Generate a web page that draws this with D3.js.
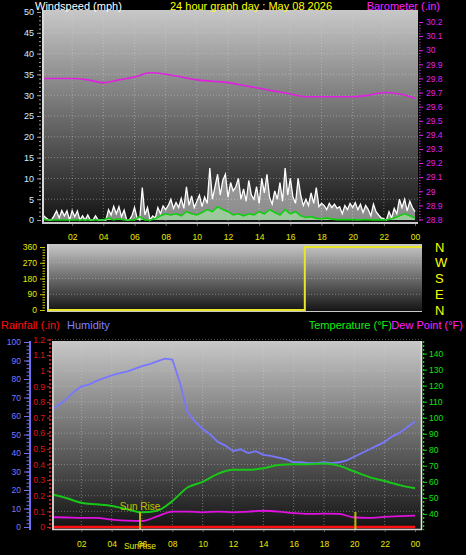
<!DOCTYPE html>
<html><head><meta charset="utf-8">
<script src="https://cdn.jsdelivr.net/npm/d3@7"></script>
<style>
html,body{margin:0;padding:0;background:#000;}
svg{display:block;}
text{font-family:"Liberation Sans",Arial,sans-serif;}
</style></head>
<body><svg id="c" width="466" height="555"></svg>
<script>
// ---------------- DATA ----------------
const hourTicks = [2,4,6,8,10,12,14,16,18,20,22,24];
const hourLabels = ["02","04","06","08","10","12","14","16","18","20","22","00"];
const windTicks = [0,5,10,15,20,25,30,35,40,45,50];
const baroTicks = [28.8,28.9,29,29.1,29.2,29.3,29.4,29.5,29.6,29.7,29.8,29.9,30,30.1,30.2];
const dirTicks = [0,90,180,270,360];
const dirNames = ["N","E","S","W","N"];
const humTicks = [0,10,20,30,40,50,60,70,80,90,100];
const rainTicks = [0,0.1,0.2,0.3,0.4,0.5,0.6,0.7,0.8,0.9,1,1.1,1.2];
const tempTicks = [40,50,60,70,80,90,100,110,120,130,140];

// wind gust (mph), every 10 minutes from 00:00
const windGust = [
 4.3,1,0.5,0,0,1,   2.2,0.5,2.3,1,2.2,0,   2.3,0.8,2.2,0,1,0,   1.2,0,0,1,0,0,
 0,0,2.5,1.2,3.3,1.5, 3.2,0.8,2.4,0,0,1,  3,0.5,0,7.8,1.2,3,   0,1,0.5,3,1.5,3.4,
 2.5,3.5,5,2.8,4.2,3, 5.2,2.8,8,3.5,5.8,3, 4.5,6,3.2,5.5,4,12.5, 5,8,11,6,9.5,11,
 5.5,9,7,8,10,5,     7.5,4.5,9.5,6,5,8,   4,10,6.5,11,5.5,3.8, 7,5,9,4.5,12.5,6,
 10,5.5,4,10,6,3.5,  5,3.5,6.5,4,7.8,3.2, 4,3.5,2.5,4,3,3.8,   2.8,3.2,1.5,3.5,2.5,4,
 3,4.2,2.5,3.8,1.8,3.5, 2.5,1,3.8,2,1.2,0.5, 0.3,0,2,0.5,2.8,1.5, 5,3,5,2.2,4.5,3,
 2];
// average wind speed (mph), every 20 minutes
const windAvg = [
 0.5,0,0, 0,0,0, 0,0,0, 0,0,0, 0,0.5,0, 0.3,0,0, 0,0.8,0, 0,0.3,1,
 1.5,1.2,1.5, 1,2,1.5, 1.2,1.8,2.5, 2,3.2,2.5, 2,1.2,1.5, 1,1.5,1.2, 2,1.5,2.5, 1.8,1.2,2.5,
 1.5,2,1, 0.6,0.8,0.4, 0.3,0.5,0.2, 0.1,0.1,0.1, 0.1,0,0.1, 0.1,0,0.1, 0,0.1,0.5, 1,1.5,1,
 0.5];
// barometer (in), hourly
const baro = [29.80,29.80,29.80,29.79,29.77,29.79,29.81,29.84,29.83,29.81,29.79,29.78,29.77,
 29.75,29.73,29.71,29.69,29.67,29.67,29.67,29.67,29.68,29.70,29.69,29.66];
// wind direction (deg)
const dirTimes = [0,16.5,16.5,24];
const dirValues = [0,0,360,360];
// humidity (%), every 30 minutes
const humidity = [63,66,69,73,76,77,79,80.5,82,83,84,85.5,87,88,89.5,91,90.5,78,62,57,53,50,46,44,
 41,42,40,41,39,38.5,37.5,36.5,35,35,34.5,34.5,35,34.5,35,36,38,40,42,44,46,49,51,54,57];
// temperature (F), hourly
const temperature = [52.5,50,47,46,45,43,41,42,48,56.5,60,65,67.5,67.5,68.5,70.5,71,71,71.5,70,66.5,63,60.5,58,56];
// dew point (F), hourly
const dewPoint = [38,37.8,37.5,37.6,36.5,35.8,35.6,38.5,41.5,41.5,41,41.5,41,41.5,42,41.5,40.5,40,40.2,40,37.8,37.5,38.2,38.6,39];
// rainfall (in), hourly
const rainfall = [0,0,0,0,0,0,0,0,0,0,0,0,0,0,0,0,0,0,0,0,0,0,0,0,0];
const sunRise = 5.87, sunSet = 20.07;

// ---------------- DRAW ----------------
const svg = d3.select("#c");
const defs = svg.append("defs");
const grad = defs.append("linearGradient").attr("id","bg").attr("x1",0).attr("y1",0).attr("x2",0).attr("y2",1);
grad.append("stop").attr("offset","0%").attr("stop-color","#c8c8c8");
grad.append("stop").attr("offset","50%").attr("stop-color","#6c6c6c");
grad.append("stop").attr("offset","100%").attr("stop-color","#121212");

function clip(id,x,y,w,h){defs.append("clipPath").attr("id",id).append("rect").attr("x",x).attr("y",y).attr("width",w).attr("height",h);}
const FS = 8.5;

// ===== TOP PANEL =====
const T = {x:42,y:10,w:376,h:214};
const xTop = d3.scaleLinear([0,24],[41,415]);
const yWind = d3.scaleLinear([0,50],[220,12]);
const yBaro = d3.scaleLinear([28.8,30.2],[219.5,22]);
svg.append("rect").attr("x",T.x).attr("y",T.y).attr("width",T.w).attr("height",T.h).attr("fill","url(#bg)");
clip("cTop",T.x+2,T.y,T.w-2,T.h-2);
const gTop = svg.append("g");
// grid
gTop.selectAll(".hg").data(windTicks.slice(1,-1)).join("line")
 .attr("x1",T.x).attr("x2",T.x+T.w).attr("y1",d=>yWind(d)).attr("y2",d=>yWind(d))
 .attr("stroke","#d0d0d0").attr("stroke-opacity",0.45).attr("stroke-dasharray","1,2");
gTop.selectAll(".vg").data(hourTicks.slice(0,-1)).join("line")
 .attr("x1",d=>xTop(d)).attr("x2",d=>xTop(d)).attr("y1",T.y).attr("y2",T.y+T.h)
 .attr("stroke","#d0d0d0").attr("stroke-opacity",0.45).attr("stroke-dasharray","1,2");
const dataTop = svg.append("g").attr("clip-path","url(#cTop)");
const gustPts = windGust.map((v,i)=>[i/6,v]);
const avgPts = windAvg.map((v,i)=>[i/3,v]);
dataTop.append("path").datum(gustPts)
 .attr("d",d3.area().x(d=>xTop(d[0])).y0(yWind(0)).y1(d=>yWind(d[1])))
 .attr("fill","#ffffff").attr("fill-opacity",0.5);
dataTop.append("path").datum(gustPts)
 .attr("d",d3.line().x(d=>xTop(d[0])).y(d=>yWind(d[1])))
 .attr("fill","none").attr("stroke","#ffffff").attr("stroke-width",1.3);
dataTop.append("path").datum(avgPts)
 .attr("d",d3.area().x(d=>xTop(d[0])).y0(yWind(0)).y1(d=>yWind(d[1])))
 .attr("fill","#a8f0a8").attr("fill-opacity",0.6);
dataTop.append("path").datum(avgPts)
 .attr("d",d3.line().x(d=>xTop(d[0])).y(d=>yWind(d[1])))
 .attr("fill","none").attr("stroke","#10d010").attr("stroke-width",1.6);
dataTop.append("path").datum(baro.map((v,i)=>[i,v]))
 .attr("d",d3.line().curve(d3.curveMonotoneX).x(d=>xTop(d[0])).y(d=>yBaro(d[1])))
 .attr("fill","none").attr("stroke","#e020e0").attr("stroke-width",1.6);
// frame
svg.append("line").attr("x1",T.x+1).attr("x2",T.x+1).attr("y1",T.y).attr("y2",T.y+T.h).attr("stroke","#d8d8d8").attr("stroke-width",2);
svg.append("line").attr("x1",T.x).attr("x2",T.x+T.w).attr("y1",T.y+T.h-1).attr("y2",T.y+T.h-1).attr("stroke","#c8c8c8").attr("stroke-width",2);
// axes
const axW = svg.append("g").attr("transform","translate(41,0)")
 .call(d3.axisLeft(yWind).tickValues(windTicks).tickSize(4).tickPadding(3));
const axWm = svg.append("g").attr("transform","translate(41,0)")
 .call(d3.axisLeft(yWind).tickValues(d3.range(0,51,1)).tickSize(2).tickFormat(""));
[axW,axWm].forEach(a=>{a.select(".domain").remove();a.selectAll("line").attr("stroke","#9a9a9a");});
axW.selectAll("text").attr("fill","#d4ecff").attr("font-size",9);
const axB = svg.append("g").attr("transform","translate(419,0)")
 .call(d3.axisRight(yBaro).tickValues(baroTicks).tickSize(4).tickPadding(3).tickFormat(d=>d3.format("")(+d.toFixed(1))));
const axBm = svg.append("g").attr("transform","translate(419,0)")
 .call(d3.axisRight(yBaro).tickValues(d3.range(28.8,30.21,0.02)).tickSize(1.5).tickFormat(""));
[axB,axBm].forEach(a=>{a.select(".domain").remove();a.selectAll("line").attr("stroke","#e020e0");});
axB.selectAll("text").attr("fill","#e020e0").attr("font-size",FS);
const axX1 = svg.append("g").attr("transform",`translate(0,${T.y+T.h})`)
 .call(d3.axisBottom(xTop).tickValues(hourTicks).tickSize(2).tickPadding(8).tickFormat((d,i)=>hourLabels[i]));
axX1.select(".domain").remove(); axX1.selectAll("line").attr("stroke","#666");
axX1.selectAll("text").attr("fill","#e8e800").attr("font-size",FS);

// titles
svg.append("text").attr("x",35).attr("y",10).attr("fill","#fff").attr("font-size",11).text("Windspeed (mph)");
svg.append("text").attr("x",251).attr("y",10).attr("text-anchor","middle").attr("fill","#ffff00").attr("font-size",11).text("24 hour graph day : May 08 2026");
svg.append("text").attr("x",440).attr("y",10).attr("text-anchor","end").attr("fill","#ff20ff").attr("font-size",11).text("Barometer (.in)");

// ===== DIRECTION PANEL =====
const D = {x:47,y:244,w:375,h:68};
const xDir = d3.scaleLinear([0,24],[47,422]);
const yDir = d3.scaleLinear([0,360],[310,247]);
svg.append("rect").attr("x",D.x).attr("y",D.y).attr("width",D.w).attr("height",D.h).attr("fill","url(#bg)");
svg.selectAll(".dg").data(dirTicks.slice(1,-1)).join("line")
 .attr("x1",D.x).attr("x2",D.x+D.w).attr("y1",d=>yDir(d)).attr("y2",d=>yDir(d))
 .attr("stroke","#d0d0d0").attr("stroke-opacity",0.45).attr("stroke-dasharray","1,2");
svg.append("line").attr("x1",D.x+1).attr("x2",D.x+1).attr("y1",D.y).attr("y2",D.y+D.h).attr("stroke","#d8d8d8").attr("stroke-width",2);
svg.append("line").attr("x1",D.x).attr("x2",D.x+D.w).attr("y1",D.y+D.h-0.5).attr("y2",D.y+D.h-0.5).attr("stroke","#c8c8c8").attr("stroke-width",1);
svg.append("path").datum(dirTimes.map((t,i)=>[t,dirValues[i]]))
 .attr("d",d3.line().x(d=>xDir(d[0])).y(d=>yDir(d[1])))
 .attr("fill","none").attr("stroke","#e6e62a").attr("stroke-width",2);
const axD = svg.append("g").attr("transform","translate(45,0)")
 .call(d3.axisLeft(yDir).tickValues(dirTicks).tickSize(5).tickPadding(3));
const axDm = svg.append("g").attr("transform","translate(45,0)")
 .call(d3.axisLeft(yDir).tickValues(d3.range(0,361,15)).tickSize(2.5).tickFormat(""));
[axD,axDm].forEach(a=>{a.select(".domain").remove();a.selectAll("line").attr("stroke","#c8c800");});
axD.selectAll("text").attr("fill","#e8e800").attr("font-size",FS);
const axDr = svg.append("g").attr("transform","translate(430,0)")
 .call(d3.axisRight(yDir).tickValues(dirTicks).tickSize(0).tickPadding(5).tickFormat((d,i)=>dirNames[i]));
axDr.select(".domain").remove();
axDr.selectAll("text").attr("fill","#ffff00").attr("font-size",13);

// ===== BOTTOM PANEL =====
const B = {x:52,y:341,w:370,h:189};
const xBot = d3.scaleLinear([0,24],[51,415]);
const yHum = d3.scaleLinear([0,100],[527,342]);
const yRain = d3.scaleLinear([0,1.2],[527,339.4]);
const yTemp = d3.scaleLinear([30,140],[530,353.6]);
svg.append("rect").attr("x",B.x).attr("y",B.y).attr("width",B.w).attr("height",B.h).attr("fill","url(#bg)");
clip("cBot",B.x+2,B.y,B.w-3,B.h-1);
svg.selectAll(".bhg").data(d3.range(0.1,1.21,0.1)).join("line")
 .attr("x1",B.x).attr("x2",B.x+B.w).attr("y1",d=>yRain(d)).attr("y2",d=>yRain(d))
 .attr("stroke","#d0d0d0").attr("stroke-opacity",0.4).attr("stroke-dasharray","1,2");
svg.selectAll(".bvg").data(hourTicks.slice(0,-1)).join("line")
 .attr("x1",d=>xBot(d)).attr("x2",d=>xBot(d)).attr("y1",B.y).attr("y2",B.y+B.h)
 .attr("stroke","#d0d0d0").attr("stroke-opacity",0.45).attr("stroke-dasharray","1,2");
const dataBot = svg.append("g").attr("clip-path","url(#cBot)");
dataBot.append("path").datum(humidity.map((v,i)=>[i/2,v]))
 .attr("d",d3.line().x(d=>xBot(d[0])).y(d=>yHum(d[1])))
 .attr("fill","none").attr("stroke","#7878ff").attr("stroke-width",1.8);
dataBot.append("path").datum(temperature.map((v,i)=>[i,v]))
 .attr("d",d3.line().curve(d3.curveMonotoneX).x(d=>xBot(d[0])).y(d=>yTemp(d[1])))
 .attr("fill","none").attr("stroke","#18c818").attr("stroke-width",2);
dataBot.append("path").datum(dewPoint.map((v,i)=>[i,v]))
 .attr("d",d3.line().curve(d3.curveMonotoneX).x(d=>xBot(d[0])).y(d=>yTemp(d[1])))
 .attr("fill","none").attr("stroke","#e010e0").attr("stroke-width",1.8);
dataBot.append("path").datum(rainfall.map((v,i)=>[i,v]))
 .attr("d",d3.line().x(d=>xBot(d[0])).y(d=>yRain(d[1])))
 .attr("fill","none").attr("stroke","#ff1010").attr("stroke-width",2.5);
// sun lines
svg.selectAll(".sun").data([sunRise,sunSet]).join("line")
 .attr("x1",d=>xBot(d)).attr("x2",d=>xBot(d)).attr("y1",512).attr("y2",B.y+B.h)
 .attr("stroke","#b8b800").attr("stroke-width",2);
svg.append("text").attr("x",xBot(sunRise)).attr("y",510).attr("text-anchor","middle").attr("fill","#c0c000").attr("font-size",10).text("Sun Rise");
// frame
svg.append("line").attr("x1",B.x+1).attr("x2",B.x+1).attr("y1",B.y).attr("y2",B.y+B.h).attr("stroke","#c8c8c8").attr("stroke-width",2);
svg.append("line").attr("x1",B.x).attr("x2",B.x+B.w).attr("y1",B.y+B.h-0.5).attr("y2",B.y+B.h-0.5).attr("stroke","#d0d0d0").attr("stroke-width",1.5);
svg.append("line").attr("x1",B.x+B.w-0.5).attr("x2",B.x+B.w-0.5).attr("y1",B.y).attr("y2",B.y+B.h).attr("stroke","#e8e8e8").attr("stroke-width",1.5);
// humidity axis
svg.append("line").attr("x1",30).attr("x2",30).attr("y1",341).attr("y2",530).attr("stroke","#7070ee").attr("stroke-width",2);
const axH = svg.append("g").attr("transform","translate(29,0)")
 .call(d3.axisLeft(yHum).tickValues(humTicks).tickSize(5).tickPadding(3));
const axHm = svg.append("g").attr("transform","translate(29,0)")
 .call(d3.axisLeft(yHum).tickValues(d3.range(0,101,2)).tickSize(2.5).tickFormat(""));
[axH,axHm].forEach(a=>{a.select(".domain").remove();a.selectAll("line").attr("stroke","#7070ee");});
axH.selectAll("text").attr("fill","#7878ff").attr("font-size",FS);
// rain axis
svg.append("line").attr("x1",50).attr("x2",50).attr("y1",339).attr("y2",530).attr("stroke","#e02020").attr("stroke-width",1.5).attr("stroke-dasharray","2,2");
const axR = svg.append("g").attr("transform","translate(50,0)")
 .call(d3.axisLeft(yRain).tickValues(rainTicks).tickSize(3).tickPadding(2).tickFormat(d=>d3.format("")(+d.toFixed(1))));
axR.select(".domain").remove(); axR.selectAll("line").attr("stroke","#e02020");
axR.selectAll("text").attr("fill","#e01010").attr("font-size",FS);
// temperature axis
svg.append("line").attr("x1",423.5).attr("x2",423.5).attr("y1",341).attr("y2",530).attr("stroke","#10d010").attr("stroke-width",1.5).attr("stroke-dasharray","2,2");
const axT = svg.append("g").attr("transform","translate(423,0)")
 .call(d3.axisRight(yTemp).tickValues(tempTicks).tickSize(4).tickPadding(2));
axT.select(".domain").remove(); axT.selectAll("line").attr("stroke","#10d010");
axT.selectAll("text").attr("fill","#10e010").attr("font-size",FS);
// bottom x axis
const axX2 = svg.append("g").attr("transform",`translate(0,${B.y+B.h})`)
 .call(d3.axisBottom(xBot).tickValues(hourTicks).tickSize(2).tickPadding(9).tickFormat((d,i)=>hourLabels[i]));
axX2.select(".domain").remove(); axX2.selectAll("line").attr("stroke","#666");
axX2.selectAll("text").attr("fill","#e8e800").attr("font-size",FS);
svg.append("text").attr("x",xBot(sunRise)).attr("y",B.y+B.h+19).attr("text-anchor","middle").attr("fill","#e8e800").attr("font-size",FS).text("SunRise");
// bottom legend titles
svg.append("text").attr("x",1).attr("y",329).attr("fill","#ff1010").attr("font-size",11).text("Rainfall (.in)");
svg.append("text").attr("x",67).attr("y",329).attr("fill","#8080ff").attr("font-size",11).text("Humidity");
svg.append("text").attr("x",392).attr("y",329).attr("text-anchor","end").attr("fill","#10f010").attr("font-size",11).text("Temperature (°F)");
svg.append("text").attr("x",463).attr("y",329).attr("text-anchor","end").attr("fill","#ff20ff").attr("font-size",11).text("Dew Point (°F)");
</script></body></html>
